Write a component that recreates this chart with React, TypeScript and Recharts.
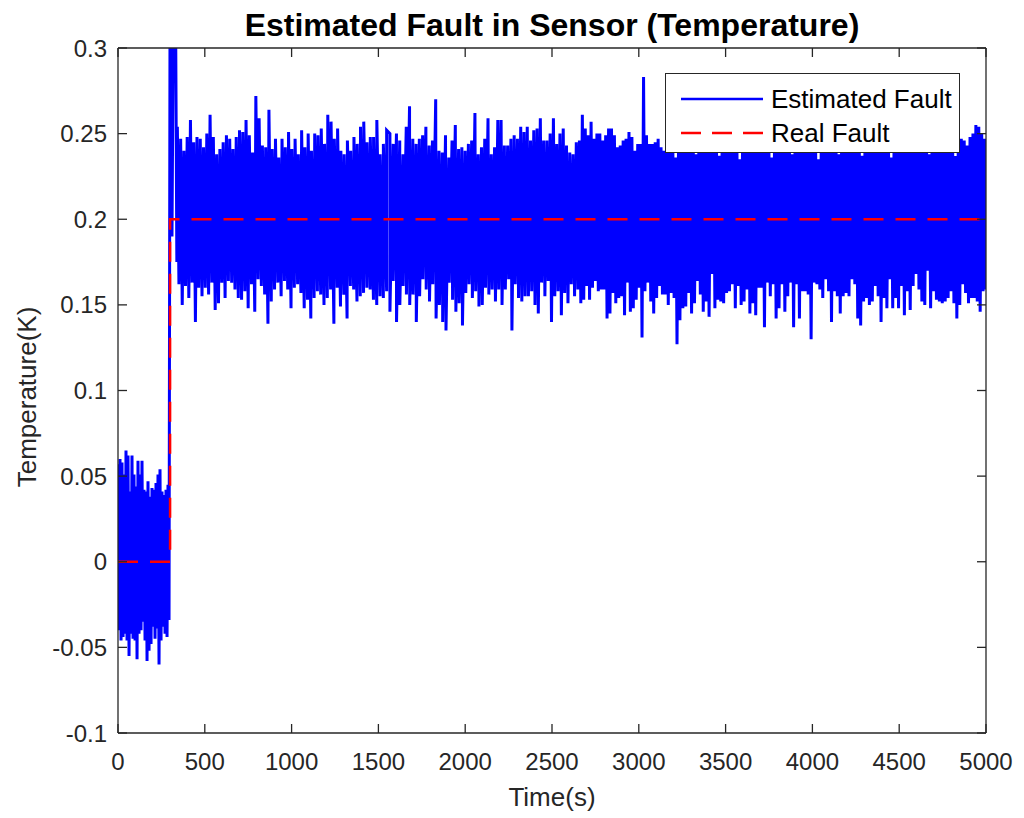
import { LineChart, Line, XAxis, YAxis } from "recharts"

// values are in mK, converted to K when the series is built
// before the fault appears (t = 0..300 s): peak tops and trough bottoms
const BEFORE_HI = [57, 60, 58, 51, 65, 62, 41, 62, 51, 44, 59, 51, 59, 42, 41, 47, 38, 43, 42, 46, 51, 54, 41, 39, 42, 45]
const BEFORE_LO = [-40, -46, -44, -42, -46, -55, -42, -45, -46, -57, -42, -40, -35, -46, -58, -52, -48, -38, -45, -39, -60, -46, -38, -42, -44, -34]

// the jump at t = 300 s (overshoots the top of the axes)
const JUMP_T = [300, 311, 320, 331, 339]
const JUMP_V = [340, 190, 340, 335, 175]

// after the fault, first half (t = 340..2650 s): peak tops / trough bottoms
const AFTER_HI_A = [
  254, 247, 240, 248, 258, 245, 248, 247, 242, 250,
  261, 248, 238, 241, 245, 249, 247, 241, 248, 252,
  251, 258, 249, 239, 272, 259, 243, 242, 264, 241,
  247, 236, 247, 242, 251, 241, 247, 238, 252, 242,
  250, 240, 250, 249, 253, 244, 261, 257, 247, 253,
  240, 238, 246, 240, 248, 244, 254, 257, 245, 248,
  248, 258, 238, 244, 252, 250, 244, 250, 246, 238,
  254, 266, 247, 244, 247, 249, 254, 243, 246, 270,
  240, 239, 249, 236, 246, 255, 241, 242, 240, 244,
  246, 262, 238, 242, 247, 259, 238, 242, 258, 258,
  243, 243, 247, 249, 247, 254, 251, 254, 246, 252,
  253, 259, 246, 246, 250, 259, 244, 250, 253, 243,
  239, 238, 245,
]
const AFTER_LO_A = [
  162, 150, 161, 154, 163, 140, 160, 155, 160,
  156, 163, 147, 151, 163, 154, 164, 163, 159,
  154, 153, 158, 148, 162, 146, 165, 161, 156,
  139, 152, 159, 163, 155, 164, 159, 148, 160,
  162, 157, 148, 153, 142, 154, 158, 156, 150,
  154, 159, 139, 160, 149, 156, 142, 161, 159,
  152, 155, 157, 160, 159, 153, 150, 155,
  154, 158, 146, 164, 140, 150, 161, 156, 150,
  156, 140, 155, 165, 159, 152, 162, 142, 150,
  140, 135, 163, 153, 146, 151, 138, 157, 162,
  154, 158, 149, 150, 160, 156, 159, 152,
  159, 150, 159, 165, 135, 162, 154, 152, 155,
  155, 158, 150, 145, 163, 155, 164, 140,
  155, 158, 144, 157, 151, 162, 155, 159,
]

// second half (t = 2660..5000 s)
const AFTER_HI_B = [
  246, 261, 253, 249, 257, 247, 250, 250, 246, 249,
  253, 253, 249, 242, 243, 246, 247, 251, 248, 240,
  244, 244, 283, 249, 244, 244, 245, 247, 242, 240,
  // behind the legend
  248, 242, 251, 236, 245, 257, 240, 249, 244, 253,
  238, 247, 260, 243, 250, 241, 255, 246, 237, 252,
  244, 249, 258, 241, 247, 235, 251, 245, 262, 243,
  248, 239, 254, 246, 250, 242, 236, 257, 244, 249,
  241, 253, 247, 238, 251, 245, 259, 243, 248, 240,
  252, 246, 235, 250, 244, 256, 242, 249, 247, 238,
  253, 245, 241, 260, 247, 250, 243, 237, 252, 246,
  249, 242, 255, 244, 240, 251, 247, 236, 258, 245,
  250, 243, 248, 241, 254, 247, 252, 240, 244, 256,
  238, 249, 245, 251, 243, 258, 246, 241, 250, 237,
  253,
  247, 246, 243, 248, 250, 255, 254, 250, 247,
]
const AFTER_LO_B = [
  151, 153, 161, 153, 160, 164, 158, 159, 159, 142,
  145, 157, 151, 154, 155, 144, 163, 146, 148, 153,
  160, 131, 158, 163, 152, 145, 154, 161, 156, 156,
  150, 157, 154, 127, 141, 148, 149, 157, 145, 151,
  164, 156, 146, 152, 143, 168, 148, 153, 152, 151,
  157, 158, 162, 148, 161, 150, 152, 159, 145,
  151, 144, 160, 160, 137, 163, 155, 162, 142, 148,
  162, 146, 155, 163, 137, 162, 142, 158, 158, 156,
  130, 163, 162, 159, 154, 165, 158, 140, 158, 155,
  145, 155, 157, 155, 165, 162, 142, 138, 152, 154,
  150, 152, 161, 155, 140, 154, 148, 165, 148, 154,
  148, 161, 144, 158, 147, 161, 168, 159, 152, 150,
  170, 148, 158, 153, 152, 151, 152, 154, 158, 151,
  142, 150, 162, 157, 151, 154, 154, 152, 146, 158,
  159,
]

const REAL_T = [0, 300, 300, 5000]
const REAL_V = [0, 0, 0.2, 0.2]

const X_TICKS = [0, 500, 1000, 1500, 2000, 2500, 3000, 3500, 4000, 4500, 5000]
const Y_TICKS = [-0.1, -0.05, 0, 0.05, 0.1, 0.15, 0.2, 0.25, 0.3]

const spread = (vals: number[], t0: number, t1: number) =>
  vals.map((v, i) => ({ t: t0 + ((t1 - t0) * i) / (vals.length - 1), v: v / 1000 }))

const estimated = [
  ...spread(BEFORE_HI, 0, 288),
  ...spread(BEFORE_LO, 6, 294),
  ...JUMP_T.map((t, i) => ({ t, v: JUMP_V[i] / 1000 })),
  ...spread(AFTER_HI_A, 342, 2640),
  ...spread(AFTER_LO_A, 351, 2649),
  ...spread(AFTER_HI_B, 2658, 4992),
  ...spread(AFTER_LO_B, 2666, 5000),
].sort((a, b) => a.t - b.t)

const real = REAL_T.map((t, i) => ({ t, v: REAL_V[i] }))

const AXIS = "#262626"
const tickStyle = { fill: AXIS, fontSize: 24 }

export default function App() {
  return (
    <div
      style={{
        position: "absolute",
        left: 0,
        top: 0,
        width: 1024,
        height: 818,
        background: "#fff",
        fontFamily: "'Liberation Sans', Arial, Helvetica, sans-serif",
      }}
    >
      <LineChart width={1024} height={818} margin={{ top: 47, right: 37, bottom: 0, left: 0 }}>
        <XAxis
          xAxisId="b"
          type="number"
          dataKey="t"
          domain={[0, 5000]}
          ticks={X_TICKS}
          allowDataOverflow
          height={85}
          stroke={AXIS}
          strokeWidth={1.3}
          tickSize={-9}
          tickMargin={29}
          tick={tickStyle}
          label={{
            content: () => (
              <text x={552} y={806} textAnchor="middle" fontSize={26} fill={AXIS}>
                Time(s)
              </text>
            ),
          }}
        />
        <XAxis
          xAxisId="top"
          orientation="top"
          type="number"
          dataKey="t"
          domain={[0, 5000]}
          ticks={X_TICKS}
          allowDataOverflow
          height={1}
          stroke={AXIS}
          strokeWidth={1.3}
          tickSize={-9}
          tickFormatter={() => ""}
          label={{
            content: () => (
              <text x={552} y={36} textAnchor="middle" fontSize={32} fontWeight="bold" fill="#000">
                Estimated Fault in Sensor (Temperature)
              </text>
            ),
          }}
        />
        <YAxis
          yAxisId="l"
          type="number"
          domain={[-0.1, 0.3]}
          ticks={Y_TICKS}
          allowDataOverflow
          width={118}
          stroke={AXIS}
          strokeWidth={1.3}
          tickSize={-9}
          tickMargin={20}
          tick={tickStyle}
          label={{
            content: () => (
              <text x={36} y={397} transform="rotate(-90 36 397)" textAnchor="middle" fontSize={26} fill={AXIS}>
                Temperature(K)
              </text>
            ),
          }}
        />
        <YAxis
          yAxisId="r"
          orientation="right"
          type="number"
          domain={[-0.1, 0.3]}
          ticks={Y_TICKS}
          allowDataOverflow
          width={1}
          stroke={AXIS}
          strokeWidth={1.3}
          tickSize={-9}
          tickFormatter={() => ""}
        />
        <Line
          xAxisId="b"
          yAxisId="l"
          data={estimated}
          dataKey="v"
          type="linear"
          stroke="#0000ff"
          strokeWidth={3}
          dot={false}
          activeDot={false}
          isAnimationActive={false}
        />
        <Line
          xAxisId="b"
          yAxisId="l"
          data={real}
          dataKey="v"
          type="linear"
          stroke="#ff0000"
          strokeWidth={2.5}
          strokeDasharray="20 12"
          dot={false}
          activeDot={false}
          isAnimationActive={false}
        />
        {/* invisible series so the top and right frame axes have something attached */}
        <Line
          xAxisId="top"
          yAxisId="r"
          data={real}
          dataKey="v"
          stroke="none"
          dot={false}
          activeDot={false}
          legendType="none"
          isAnimationActive={false}
        />
      </LineChart>
      <div
        style={{
          position: "absolute",
          left: 665,
          top: 73,
          width: 295,
          height: 80,
          boxSizing: "border-box",
          border: `1.3px solid ${AXIS}`,
          background: "#fff",
          fontSize: 26,
          color: "#000",
        }}
      >
        <div style={{ position: "absolute", left: 15, top: 10, display: "flex", alignItems: "center", height: 30 }}>
          <svg width={82} height={10}>
            <line x1={0} y1={5} x2={82} y2={5} stroke="#0000ff" strokeWidth={2.5} />
          </svg>
          <span style={{ marginLeft: 8 }}>Estimated Fault</span>
        </div>
        <div style={{ position: "absolute", left: 15, top: 44, display: "flex", alignItems: "center", height: 30 }}>
          <svg width={82} height={10}>
            <line x1={0} y1={5} x2={82} y2={5} stroke="#ff0000" strokeWidth={2.5} strokeDasharray="20 11" />
          </svg>
          <span style={{ marginLeft: 8 }}>Real Fault</span>
        </div>
      </div>
    </div>
  )
}
